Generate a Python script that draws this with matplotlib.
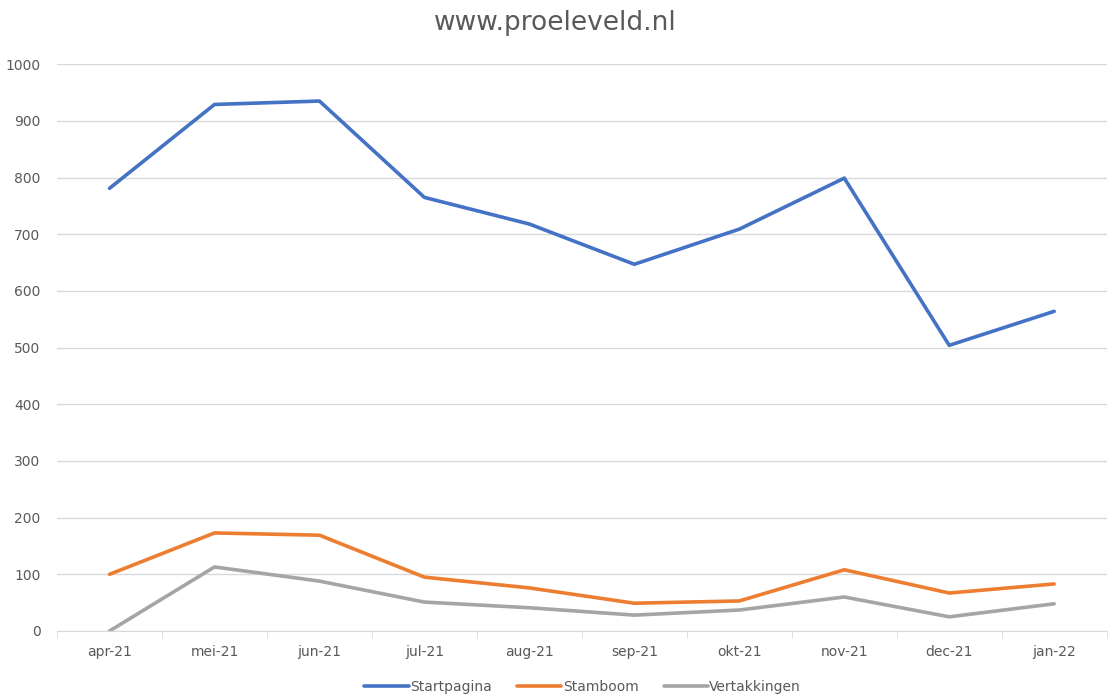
import numpy as np
import matplotlib.pyplot as plt

months = ["apr-21", "mei-21", "jun-21", "jul-21", "aug-21",
          "sep-21", "okt-21", "nov-21", "dec-21", "jan-22"]
startpagina = [781, 929, 935, 765, 718, 647, 709, 799, 504, 564]
stamboom = [100, 173, 169, 95, 76, 49, 53, 108, 67, 83]
vertakkingen = [0, 113, 88, 51, 41, 28, 37, 60, 25, 48]

fig = plt.figure(figsize=(11.1, 6.98), dpi=100)
ax = fig.add_axes([0.0514, 0.096, 0.9456, 0.812])

x = np.arange(len(months))
ax.plot(x, startpagina, color="#4472C4", lw=2.6, label="Startpagina", solid_capstyle="round")
ax.plot(x, stamboom, color="#ED7D31", lw=2.6, label="Stamboom", solid_capstyle="round")
ax.plot(x, vertakkingen, color="#A5A5A5", lw=2.6, label="Vertakkingen", solid_capstyle="round")

ax.set_xlim(-0.5, len(months) - 0.5)
ax.set_ylim(0, 1000)
ax.set_yticks(range(0, 1001, 100))
ax.set_xticks(x)
ax.set_xticklabels(months)
ax.set_xticks(np.arange(-0.5, len(months), 1), minor=True)
ax.tick_params(axis="x", which="major", length=0, pad=10, labelsize=10, labelcolor="#595959")
ax.tick_params(axis="x", which="minor", length=5, color="#d9d9d9")
ax.tick_params(axis="y", length=0, pad=12, labelsize=10, labelcolor="#595959")

ax.grid(axis="y", color="#d9d9d9", lw=1)
ax.set_axisbelow(True)
for s in ["top", "right", "left"]:
    ax.spines[s].set_visible(False)
ax.spines["bottom"].set_color("#d9d9d9")

fig.suptitle("www.proeleveld.nl", y=0.985, fontsize=19, color="#595959")
fig.legend(loc="lower center", ncol=3, frameon=False, fontsize=10,
           bbox_to_anchor=(0.525, -0.012), handlelength=3.2, handletextpad=0.1,
           columnspacing=1.8, labelcolor="#595959")

fig.savefig("out.png", dpi=100)
